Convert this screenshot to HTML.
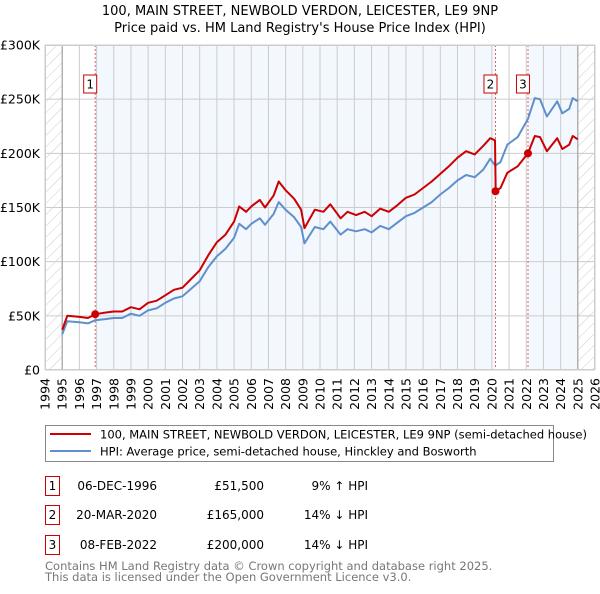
<!DOCTYPE html>
<html><head><meta charset="utf-8"><style>
body{margin:0;background:#fff;width:600px;height:590px;overflow:hidden;font-family:"DejaVu Sans","Liberation Sans",sans-serif}
text{font-family:"DejaVu Sans","Liberation Sans",sans-serif}
</style></head><body>
<svg id="chart" width="600" height="590" xmlns="http://www.w3.org/2000/svg">
<defs><pattern id="hatch" width="8" height="8" patternUnits="userSpaceOnUse" patternTransform="rotate(45)"><line x1="0" y1="0" x2="0" y2="8" stroke="#ccc" stroke-width="1"/></pattern></defs>
<text x="300" y="15" text-anchor="middle" font-size="13">100, MAIN STREET, NEWBOLD VERDON, LEICESTER, LE9 9NP</text>
<text x="300" y="32" text-anchor="middle" font-size="13">Price paid vs. HM Land Registry's House Price Index (HPI)</text>
<g id="plot"></g>
<g>
<rect x="45.5" y="425.5" width="508" height="36" fill="#fff" stroke="#888"/>
<line x1="50" y1="434" x2="91" y2="434" stroke="#cc0000" stroke-width="2"/>
<text x="100" y="438.5" font-size="11.5">100, MAIN STREET, NEWBOLD VERDON, LEICESTER, LE9 9NP (semi-detached house)</text>
<line x1="50" y1="451" x2="91" y2="451" stroke="#6090cc" stroke-width="2"/>
<text x="100" y="455.5" font-size="11.5">HPI: Average price, semi-detached house, Hinckley and Bosworth</text>
</g>
<g font-size="12">
<rect x="45.5" y="476.5" width="14" height="19" fill="#fff" stroke="#cc0000"/><text x="52.5" y="490" text-anchor="middle">1</text>
<text x="157" y="490" text-anchor="end">06-DEC-1996</text><text x="264" y="490" text-anchor="end">£51,500</text><text x="368" y="490" text-anchor="end">9% ↑ HPI</text>
<rect x="45.5" y="505.5" width="14" height="19" fill="#fff" stroke="#cc0000"/><text x="52.5" y="519" text-anchor="middle">2</text>
<text x="157" y="519" text-anchor="end">20-MAR-2020</text><text x="264" y="519" text-anchor="end">£165,000</text><text x="368" y="519" text-anchor="end">14% ↓ HPI</text>
<rect x="45.5" y="535.5" width="14" height="19" fill="#fff" stroke="#cc0000"/><text x="52.5" y="549" text-anchor="middle">3</text>
<text x="157" y="549" text-anchor="end">08-FEB-2022</text><text x="264" y="549" text-anchor="end">£200,000</text><text x="368" y="549" text-anchor="end">14% ↓ HPI</text>
</g>
<text x="45" y="570" font-size="11.5" fill="#777">Contains HM Land Registry data © Crown copyright and database right 2025.</text>
<text x="45" y="581" font-size="11.5" fill="#777">This data is licensed under the Open Government Licence v3.0.</text>
</svg>
<script>
const dates=[1995.0,1995.3,1996.0,1996.5,1996.92,1997.5,1998.0,1998.5,1999.0,1999.5,2000.0,2000.5,2001.0,2001.5,2002.0,2002.5,2003.0,2003.5,2004.0,2004.5,2005.0,2005.3,2005.7,2006.0,2006.5,2006.8,2007.3,2007.6,2008.0,2008.5,2008.9,2009.1,2009.7,2010.2,2010.6,2011.2,2011.6,2012.1,2012.6,2013.0,2013.5,2014.0,2014.5,2015.0,2015.5,2016.0,2016.5,2017.0,2017.5,2018.0,2018.5,2019.0,2019.5,2019.9,2020.18,2020.22,2020.5,2020.9,2021.5,2022.1,2022.5,2022.8,2023.2,2023.8,2024.1,2024.5,2024.7,2025.0];
const hpi=[33,45,44,43,46,47,48,48,52,50,55,57,62,66,68,75,82,95,105,112,122,135,130,135,140,134,144,155,148,141,132,117,132,130,137,125,130,128,130,127,133,130,136,142,145,150,155,162,168,175,180,178,185,195,189,189,192,208,215,232,251,250,234,248,237,241,251,248];
const price=[37,50,49,48,51.5,53,54,54,58,56,62,64,69,74,76,84,92,106,118,125,137,151,146,151,157,150,161,174,166,158,148,131,148,146,153,140,146,143,146,142,149,146,152,159,162,168,174,181,188,196,202,199,207,214,212,165,168,182,188,200,216,215,202,214,204,208,216,213];
const saleDates=[1996.92,2020.21,2022.1];
const salePrices=[51.5,165,200];
const saleLabels=["1","2","3"];
const yTicks=[0,50,100,150,200,250,300];
const yTickLabels=["£0","£50K","£100K","£150K","£200K","£250K","£300K"];
const xYears=[1994,1995,1996,1997,1998,1999,2000,2001,2002,2003,2004,2005,2006,2007,2008,2009,2010,2011,2012,2013,2014,2015,2016,2017,2018,2019,2020,2021,2022,2023,2024,2025,2026];

const L=45,R=595,T=45,B=370,X0=1994,X1=2026;
const X=v=>L+(v-X0)/(X1-X0)*(R-L);
const Y=v=>B-v/300*(B-T);
const NS="http://www.w3.org/2000/svg";
const g=document.getElementById('plot');
function mk(tag,attrs,parent){const e=document.createElementNS(NS,tag);for(const k in attrs)e.setAttribute(k,attrs[k]);(parent||g).appendChild(e);return e;}
// background regions
let r;
r=mk('rect',{x:L,y:T,width:X(1995)-L,height:B-T,fill:'url(#hatch)'});


r=mk('rect',{x:X(2025),y:T,width:R-X(2025),height:B-T,fill:'url(#hatch)'});


r=mk('rect',{x:X(saleDates[0]),y:T,width:X(saleDates[1])-X(saleDates[0]),height:B-T,fill:'#f3f7fe'});


r=mk('rect',{x:X(saleDates[2]),y:T,width:X(2025)-X(saleDates[2]),height:B-T,fill:'#f3f7fe'});


// grid
xYears.forEach(y=>{const l=mk('line',{x1:X(y),x2:X(y),y1:T,y2:B,stroke:'#ccc','stroke-width':1});


const t=mk('text',{x:0,y:0,'font-size':12.5,'text-anchor':'end',transform:`translate(${X(y)+4.5},${B+8}) rotate(-90)`});t.textContent=y;

});
yTicks.forEach((v,i)=>{const l=mk('line',{x1:L,x2:R,y1:Y(v),y2:Y(v),stroke:'#ccc','stroke-width':1});


const t=mk('text',{x:L-5,y:Y(v)+4.5,'font-size':12.5,'text-anchor':'end'});t.textContent=yTickLabels[i];

});
let ax=mk('line',{x1:X(1995),x2:X(1995),y1:T,y2:B,stroke:'#999','stroke-width':1});


ax=mk('line',{x1:X(2025),x2:X(2025),y1:T,y2:B,stroke:'#999','stroke-width':1});


// sale vlines
saleDates.forEach((d,i)=>{const l=mk('line',{x1:X(d),x2:X(d),y1:T,y2:B,stroke:'#e06060','stroke-width':1,'stroke-dasharray':'2,2'});


const bx=mk('rect',{x:X(d)-11.5,y:T+30,width:13,height:18,fill:'#fff',stroke:'#cc0000'});


const t=mk('text',{x:X(d)-5,y:T+43.5,'font-size':12,'text-anchor':'middle'});t.textContent=saleLabels[i];

});
// lines
const pts=a=>dates.map((d,i)=>X(d).toFixed(1)+','+Y(a[i]).toFixed(1)).join(' ');
let p=mk('polyline',{points:pts(hpi),fill:'none',stroke:'#6090cc','stroke-width':2,'stroke-linejoin':'round'});


p=mk('polyline',{points:pts(price),fill:'none',stroke:'#cc0000','stroke-width':2,'stroke-linejoin':'round'});


saleDates.forEach((d,i)=>{const c=mk('circle',{cx:X(d),cy:Y(salePrices[i]),r:4,fill:'#cc0000'});

});
let fr=mk('rect',{x:L+.5,y:T+.5,width:R-L-1,height:B-T-1,fill:'none',stroke:'#ccc'});


</script>
</body></html>
